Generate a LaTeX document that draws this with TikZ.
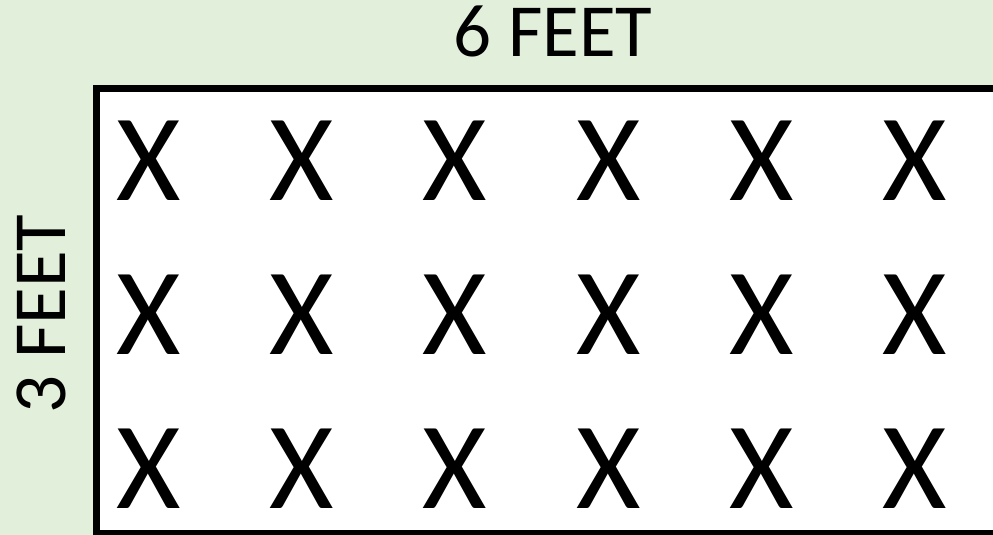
\documentclass[tikz,border=0pt]{standalone}
\usepackage{fontspec}
\setmainfont{Carlito}
\definecolor{bggreen}{HTML}{E2EFDA}
\begin{document}
\begin{tikzpicture}[x=1pt,y=-1pt,
  xmark/.style={font=\fontsize{124}{124}\selectfont, anchor=base, inner sep=0pt, text depth=0pt},
  dimlabel/.style={font=\fontsize{75}{75}\selectfont, anchor=base, inner sep=0pt}]
\fill[bggreen] (0,0) rectangle (993,535);
\useasboundingbox (0,0) rectangle (993,535);
\begin{scope}
\clip (0,0) rectangle (993,535);
\fill[white] (96,88) rectangle (1010,533);
\draw[line width=7pt] (1010,88) -- (96,88) -- (96,533) -- (1010,533);
\end{scope}
\node[dimlabel] (top) at (553,57) {6 FEET};
\node[dimlabel, rotate=90] (left) at (65,314) {3 FEET};
\foreach \r/\y in {1/200,2/354,3/508}{
  \foreach \c in {0,...,5}{
    \node[xmark] (x\r\c) at ({148.5+153.3*\c},\y) {X};
  }
}
\end{tikzpicture}
\end{document}
